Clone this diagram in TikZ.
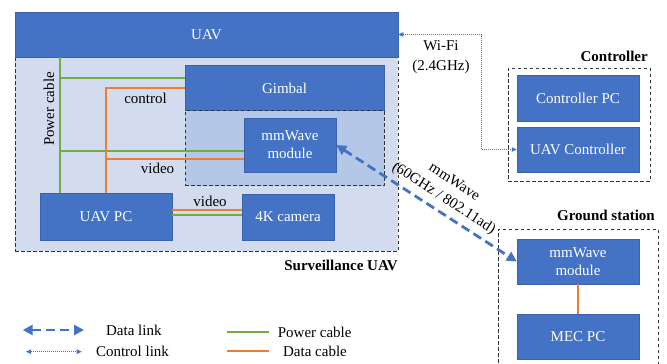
\documentclass[tikz,border=0pt]{standalone}
\usepackage{fontspec}
\setmainfont{Liberation Serif}
\usetikzlibrary{arrows.meta}

\definecolor{boxblue}{HTML}{4472C4}
\definecolor{boxedge}{HTML}{3A62AC}
\definecolor{survfill}{HTML}{D3DCEF}
\definecolor{gimfill}{HTML}{B4C7E7}
\definecolor{grpedge}{HTML}{333333}
\definecolor{pwrgreen}{HTML}{70AD47}
\definecolor{datorange}{HTML}{ED7D31}
\definecolor{linkblue}{HTML}{4472C4}

\begin{document}
\begin{tikzpicture}[x=1pt,y=-1pt,
  every node/.style={font=\fontsize{15}{18}\selectfont, inner sep=0pt},
  blk/.style={fill=boxblue, draw=boxedge, line width=0.5pt, text=white, align=center},
  grp/.style={draw=grpedge, dash pattern=on 3.5pt off 2.5pt, line width=0.8pt},
  grptitle/.style={font=\fontsize{15}{18}\selectfont\bfseries, anchor=east},
  pwr/.style={draw=pwrgreen, line width=2pt},
  dat/.style={draw=datorange, line width=2pt},
  radio/.style={draw=linkblue, line width=2.8pt, dash pattern=on 9pt off 5pt,
    {Triangle[length=10pt,width=10pt]}-{Triangle[length=10pt,width=10pt]}},
  ctl/.style={draw=linkblue, line width=0.7pt, dash pattern=on 1pt off 1pt,
    {Triangle[length=5pt,width=4.5pt]}-{Triangle[length=5pt,width=4.5pt]}}
]
\useasboundingbox (0,0) rectangle (667,364);
\clip (0,0) rectangle (667,364);

% ---- Surveillance UAV ----
\node[grp, fill=survfill, minimum width=383pt, minimum height=194pt] (surv) at (206.5,154) {};
\node[blk, minimum width=383pt, minimum height=45pt] (uav) at (206.5,34.5) {UAV};
\node[grptitle] (survlbl) at (398,265) {Surveillance UAV};

\node[blk, minimum width=199pt, minimum height=45pt] (gimbal) at (284.5,88) {Gimbal};
\node[grp, fill=gimfill, minimum width=199pt, minimum height=75pt] (gimarea) at (284.5,148) {};
\node[blk, minimum width=92pt, minimum height=54pt] (mmuav) at (290,145) {mmWave\\module};
\node[blk, minimum width=132pt, minimum height=47pt] (uavpc) at (106,216.5) {UAV PC};
\node[blk, minimum width=92pt, minimum height=46pt] (cam) at (288,217) {4K camera};

% power bus
\coordinate (bus) at (60,57);
\coordinate (gtap) at ([yshift=10pt]gimbal.west);
\coordinate (mtapP) at ([yshift=-6pt]mmuav.west);
\draw[pwr] (bus) -- (bus |- uavpc.north);
\draw[pwr] (gtap) -- (gtap -| bus);
\draw[pwr] (mtapP) -- (mtapP -| bus);
\node[rotate=90] (pwrlbl) at (49,109) {Power cable};

% data bus
\coordinate (ctlbus) at (106,0);
\coordinate (otap) at ([yshift=-14pt]mmuav.west);
\coordinate (gcorner) at (gimbal.west -| ctlbus);
\draw[dat] (gimbal.west) -- (gcorner);
\draw[dat] ([yshift=1pt]gcorner) -- (gcorner |- uavpc.north);
\draw[dat] (otap) -- (otap -| ctlbus);
\node (ctllbl) at (145.5,98) {control};
\node (vidlbl) at (157.5,168) {video};

% PC to camera
\coordinate (vA) at ([yshift=7pt]uavpc.east);
\coordinate (vB) at ([yshift=2pt]uavpc.east);
\draw[dat] (vA) -- (vA -| cam.west);
\draw[pwr] (vB) -- (vB -| cam.west);
\node (vid2lbl) at (210,201.7) {video};

% ---- Controller ----
\node[grp, minimum width=142pt, minimum height=113pt] (ctrlgrp) at (579,124.5) {};
\node[grptitle] (ctrllbl) at (648,56) {Controller};
\node[blk, minimum width=122pt, minimum height=46pt] (ctrlpc) at (578,98) {Controller PC};
\node[blk, minimum width=122pt, minimum height=45pt] (uavctrl) at (578,149.5) {UAV Controller};

% Wi-Fi control link
\coordinate (wx) at (481.7,0);
\draw[ctl] (uav.east) -- (uav.east -| wx) -- (wx |- uavctrl.west) -- (uavctrl.west);
\node[align=center, font=\fontsize{15}{20}\selectfont] (wifilbl) at (441,56.7) {Wi-Fi\\(2.4GHz)};

% ---- Ground station ----
\node[grp, minimum width=160pt, minimum height=150pt] (gs) at (578,304) {};
\node[grptitle] (gslbl) at (655,215) {Ground station};
\node[blk, minimum width=122pt, minimum height=45pt] (gsmm) at (578,261.5) {mmWave\\module};
\node[blk, minimum width=122pt, minimum height=45pt] (mec) at (578,336.5) {MEC PC};
\draw[dat] (gsmm.south) -- (mec.north);

% mmWave data link
\draw[radio] (mmuav.east) -- (gsmm.west)
  node[sloped, pos=0.555, above=5pt, align=center, text=black,
       font=\fontsize{15}{19.5}\selectfont] (radiolbl) {mmWave\\(60GHz / 802.11ad)};

% ---- Legend ----
\coordinate (l1a) at (22.7,330);
\coordinate (l1b) at (84,330);
\coordinate (l2a) at (26,351.7);
\coordinate (l2b) at (81.7,351.7);
\draw[radio] (l1a) -- (l1b);
\draw[ctl] (l2a) -- (l2b);
\node (lg1) at (133.8,330) {Data link};
\node (lg2) at (132.5,351.7) {Control link};
\coordinate (l3a) at (226.7,332);
\coordinate (l3b) at (268.7,332);
\coordinate (l4a) at (226.7,351);
\coordinate (l4b) at (268.7,351);
\draw[pwr] (l3a) -- (l3b);
\draw[dat] (l4a) -- (l4b);
\node (lg3) at (314.7,332) {Power cable};
\node (lg4) at (315,351) {Data cable};
\end{tikzpicture}
\end{document}
